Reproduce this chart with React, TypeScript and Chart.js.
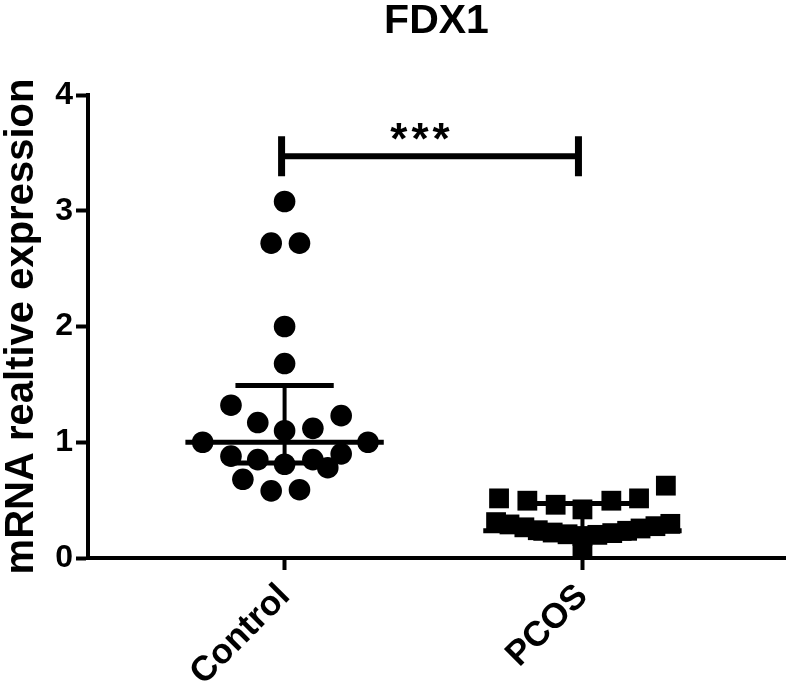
import { useEffect, useRef } from "react";
import { Chart, registerables } from "chart.js";

Chart.register(...registerables);

const chartTitle = "FDX1";
const yAxisTitle = "mRNA realtive expression";
const categories = ["Control", "PCOS"];
const yTicks = [0, 1, 2, 3, 4];

// individual samples (value) and their horizontal scatter offset within the group (category units)
const controlValues = [3.08, 2.72, 2.72, 2.0, 1.68, 1.32, 1.23, 1.17, 1.1, 1.12, 1.0, 1.0, 0.88, 0.9, 0.85, 0.81, 0.85, 0.78, 0.68, 0.58, 0.59];
const controlSpread = [0, -0.045, 0.05, 0, 0, -0.18, 0.19, -0.09, 0, 0.095, -0.275, 0.28, -0.18, 0.19, -0.09, 0, 0.095, 0.145, -0.14, -0.045, 0.05];

const pcosValues = [0.515, 0.495, 0.46, 0.42, 0.495, 0.515, 0.625, 0.31, 0.29, 0.265, 0.24, 0.22, 0.205, 0.19, 0.2, 0.215, 0.235, 0.255, 0.275, 0.295, 0.085];
const pcosSpread = [-0.28, -0.185, -0.09, 0, 0.097, 0.19, 0.28, -0.29, -0.245, -0.195, -0.15, -0.1, -0.05, 0, 0.05, 0.1, 0.15, 0.195, 0.245, 0.295, 0];

// median with interquartile range per group
const medians = [1.0, 0.235];
const lowerQuartiles = [0.82, 0.17];
const upperQuartiles = [1.49, 0.47];

const significanceLabel = "***";
const bracketValue = 3.47;

const FONT = "'Liberation Sans', Arial, sans-serif";

const summaryPlugin = {
  id: "summaryBars",
  afterDatasetsDraw(chart: any) {
    const { ctx, scales } = chart;
    const x = scales.x;
    const y = scales.y;
    ctx.save();
    ctx.strokeStyle = "#000";
    ctx.fillStyle = "#000";
    ctx.lineCap = "butt";
    categories.forEach((_, i) => {
      const cx = x.getPixelForValue(i);
      const half = x.getPixelForValue(i + 0.333) - cx;
      const capHalf = x.getPixelForValue(i + 0.165) - cx;
      const yMed = y.getPixelForValue(medians[i]);
      const yLo = y.getPixelForValue(lowerQuartiles[i]);
      const yHi = y.getPixelForValue(upperQuartiles[i]);
      ctx.lineWidth = 4;
      ctx.beginPath();
      ctx.moveTo(cx, yLo);
      ctx.lineTo(cx, yHi);
      ctx.stroke();
      ctx.lineWidth = 5;
      ctx.beginPath();
      ctx.moveTo(cx - capHalf, yLo);
      ctx.lineTo(cx + capHalf, yLo);
      ctx.moveTo(cx - capHalf, yHi);
      ctx.lineTo(cx + capHalf, yHi);
      ctx.moveTo(cx - half, yMed);
      ctx.lineTo(cx + half, yMed);
      ctx.stroke();
    });
    // significance bracket
    const by = y.getPixelForValue(bracketValue);
    const x0 = x.getPixelForValue(0) - 3;
    const x1 = x.getPixelForValue(1) - 4;
    ctx.lineWidth = 6;
    ctx.beginPath();
    ctx.moveTo(x0, by);
    ctx.lineTo(x1, by);
    ctx.stroke();
    ctx.lineWidth = 7;
    ctx.beginPath();
    ctx.moveTo(x0, by - 20);
    ctx.lineTo(x0, by + 20);
    ctx.moveTo(x1, by - 20);
    ctx.lineTo(x1, by + 20);
    ctx.stroke();
    ctx.font = `bold 44px ${FONT}`;
    (ctx as any).letterSpacing = "4px";
    ctx.textAlign = "center";
    ctx.textBaseline = "alphabetic";
    ctx.fillText(significanceLabel, (x0 + x1) / 2 - 8, by - 2);
    ctx.restore();
  },
};

export default function App() {
  const ref = useRef<HTMLCanvasElement | null>(null);
  useEffect(() => {
    document.body.style.margin = "0";
    const canvas = ref.current;
    if (!canvas) return;
    Chart.defaults.font.family = FONT;
    const chart = new Chart(canvas, {
      type: "scatter",
      data: {
        datasets: [
          {
            label: categories[0],
            data: controlValues.map((v, i) => ({ x: 0 + controlSpread[i], y: v })),
            pointStyle: "circle",
            pointRadius: 10.8,
            pointHoverRadius: 10.8,
            backgroundColor: "#000",
            borderWidth: 0,
            clip: false as any,
          },
          {
            label: categories[1],
            data: pcosValues.map((v, i) => ({ x: 1 + pcosSpread[i], y: v })),
            pointStyle: "rect",
            pointRadius: 14,
            pointHoverRadius: 14,
            backgroundColor: "#000",
            borderWidth: 0,
            clip: false as any,
          },
        ],
      },
      options: {
        animation: false,
        responsive: false,
        events: [],
        layout: { autoPadding: false, padding: { left: 0, right: 2, top: 0, bottom: 0 } },
        plugins: {
          legend: { display: false },
          tooltip: { enabled: false },
          title: {
            display: true,
            fullSize: false,
            text: chartTitle,
            color: "#000",
            font: { size: 41, weight: "bold", family: FONT, lineHeight: 1 },
            padding: { top: 1.5, bottom: 52.5 },
          },
        },
        scales: {
          x: {
            type: "linear",
            min: -0.66,
            max: 1.68,
            afterBuildTicks: (s: any) => {
              s.ticks = categories.map((_, i) => ({ value: i }));
            },
            afterFit: (s: any) => {
              s.height = 129;
              s.paddingLeft = 0;
              s.paddingRight = 0;
            },
            ticks: {
              autoSkip: false,
              minRotation: 45,
              maxRotation: 45,
              padding: 6,
              color: "#000",
              font: { size: 35, weight: "bold", family: FONT },
              callback: (_v: any, i: number) => categories[i],
            },
            border: { display: true, color: "#000", width: 4 },
            grid: {
              display: true,
              drawOnChartArea: false,
              drawTicks: true,
              tickLength: 12,
              tickWidth: 4,
              tickColor: "#000",
            },
          },
          y: {
            type: "linear",
            min: 0,
            max: 4,
            afterBuildTicks: (s: any) => {
              s.ticks = yTicks.map((v) => ({ value: v }));
            },
            afterFit: (s: any) => {
              s.width = 88;
            },
            ticks: {
              padding: 3,
              color: "#000",
              font: { size: 32, weight: "bold", family: FONT },
            },
            border: { display: true, color: "#000", width: 4 },
            grid: {
              display: true,
              drawOnChartArea: false,
              drawTicks: true,
              tickLength: 12,
              tickWidth: 4,
              tickColor: "#000",
            },
            title: {
              display: true,
              text: yAxisTitle,
              color: "#000",
              font: { size: 40, weight: "bold", family: FONT, lineHeight: 1 },
              padding: { top: 2, bottom: 0 },
            },
          },
        },
      },
      plugins: [summaryPlugin],
    });
    return () => chart.destroy();
  }, []);
  return (
    <div style={{ width: 787, height: 687 }}>
      <canvas ref={ref} width={787} height={687} style={{ display: "block" }} />
    </div>
  );
}
